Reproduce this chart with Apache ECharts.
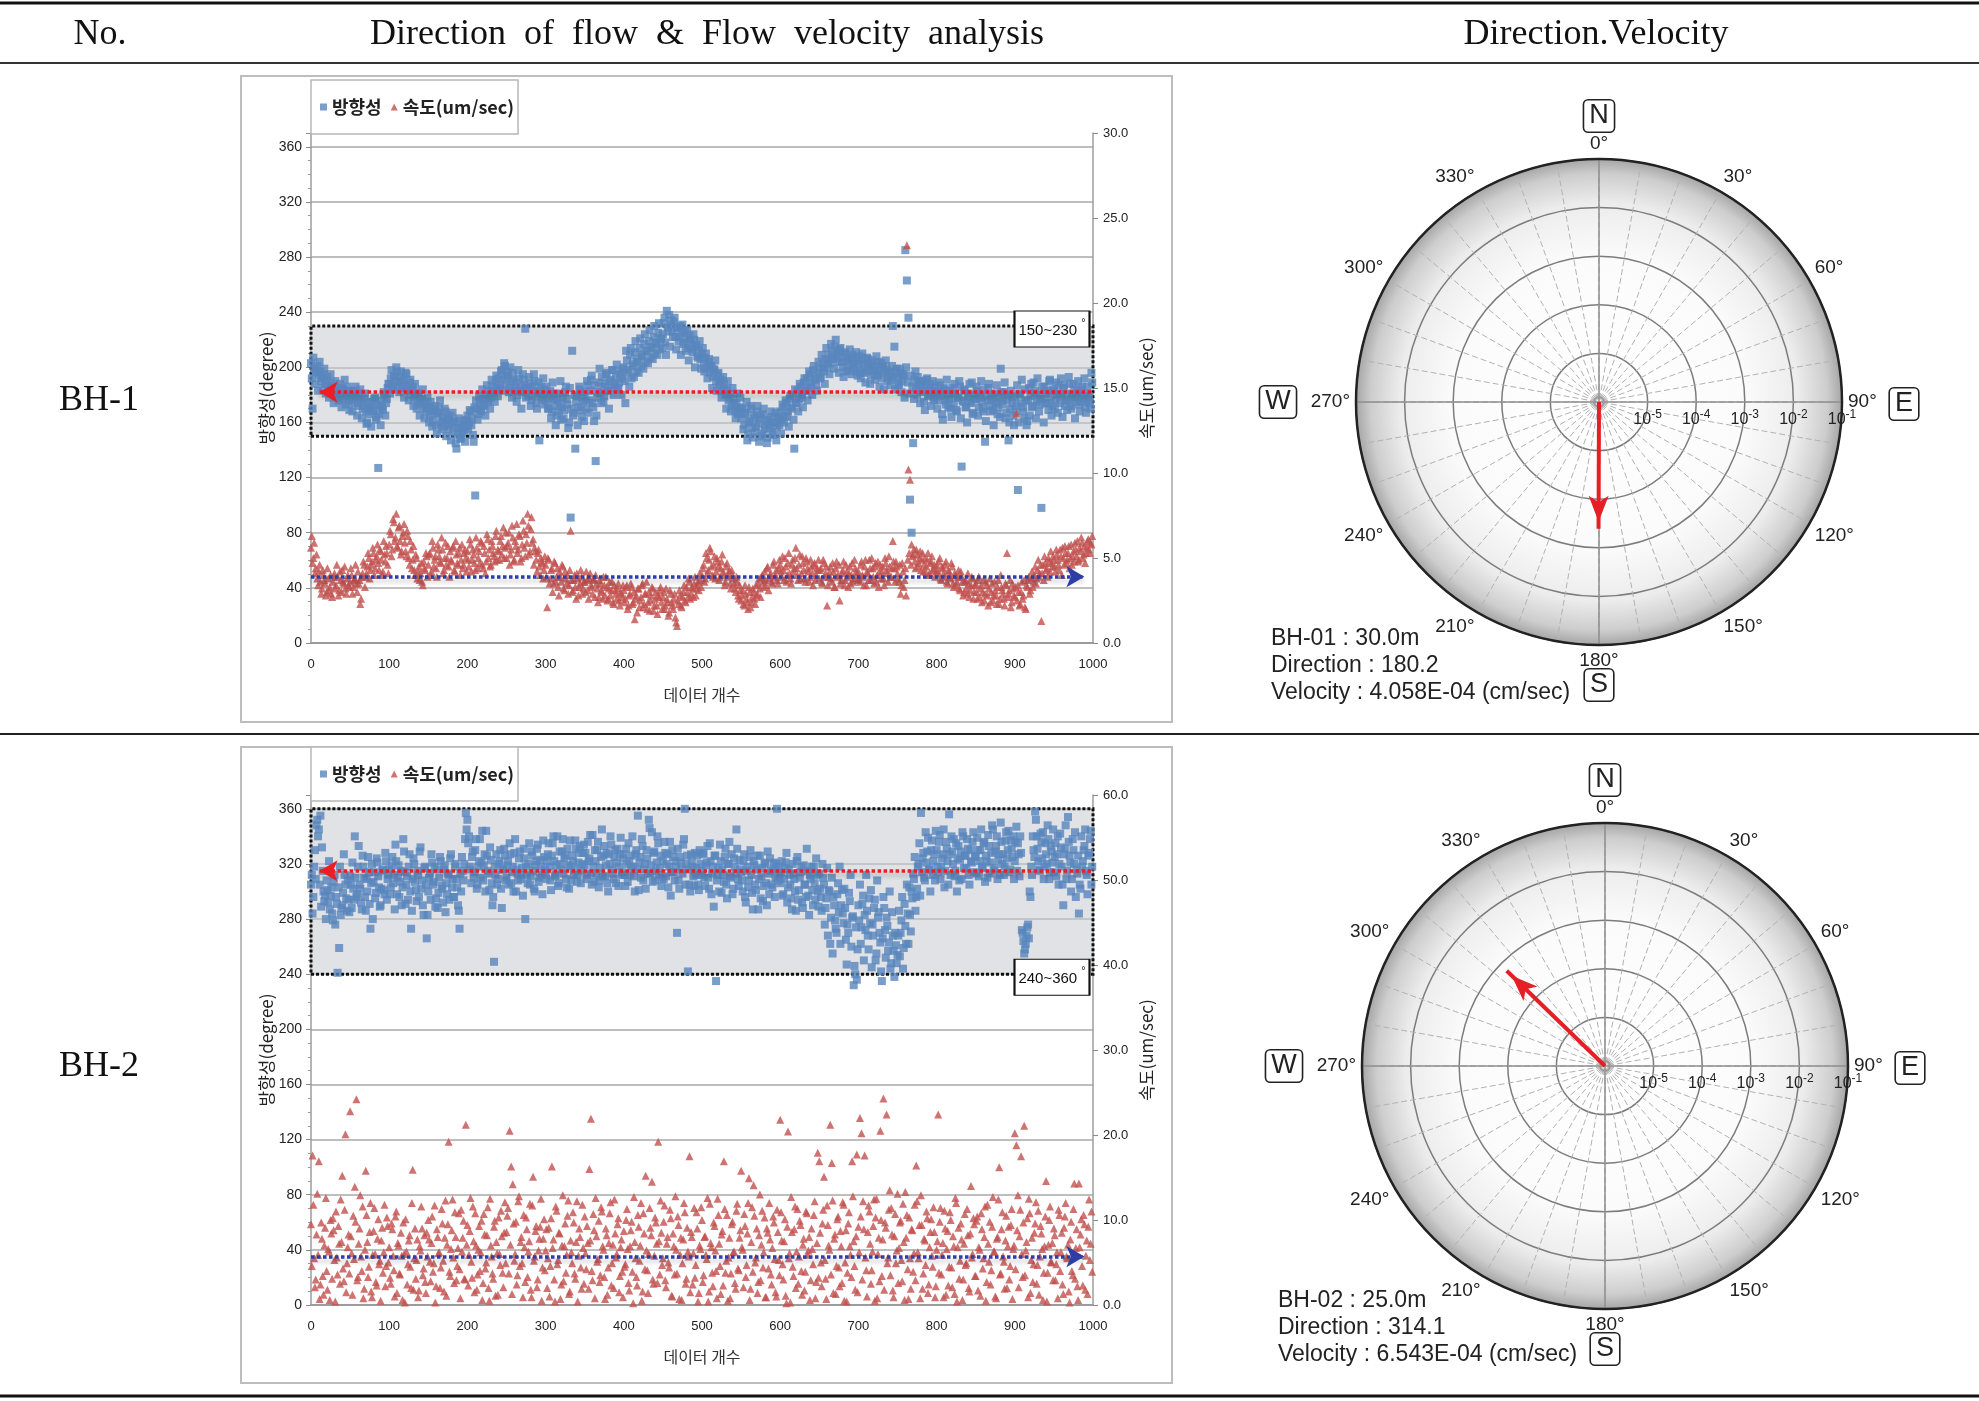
<!DOCTYPE html>
<html><head><meta charset="utf-8">
<script src="https://cdn.jsdelivr.net/npm/echarts@6/dist/echarts.min.js"></script>
<style>html,body{margin:0;padding:0;background:#fff}#c{width:1979px;height:1401px}</style>
</head><body><div id="c"></div>
<script>
// ---------------- DATA ----------------
// Even arrays hold data index 0,2,4,...,998 ; odd arrays hold 1,3,5,...,999 (데이터 개수)
const xTicks = [0, 1000, 100];

// BH-1 direction (degree)
const bh1DirEven = [
203,170,199,196,201,194,197,192,195,188,190,186,184,189,181,185,178,183,176,180,185,177,182,179,175,
180,176,183,174,178,172,181,175,170,177,168,160,166,171,175,168,178,164,127,172,176,169,180,174,185,
188,192,186,194,190,197,189,193,185,191,187,195,183,189,180,186,178,182,175,180,173,177,170,175,168,
172,165,170,162,168,158,166,171,160,164,157,168,162,155,165,159,153,161,141,151,156,149,158,154,162,
165,160,168,163,146,107,170,166,174,169,177,172,180,175,183,178,186,181,189,184,192,187,198,191,201,
188,194,185,190,196,183,189,180,192,186,182,191,228,185,179,188,176,183,190,174,181,147,186,178,184,
180,175,170,183,168,177,172,165,181,174,162,178,169,186,173,160,91,212,167,141,179,171,184,164,175,
182,170,187,176,191,174,161,132,178,189,181,193,175,188,196,183,190,185,198,187,193,185,189,197,192,
200,174,205,198,209,192,203,211,197,206,214,201,209,217,204,212,219,207,215,222,210,218,225,213,221,
224,236,209,229,238,231,226,233,222,228,219,230,225,217,226,221,214,223,218,211,220,215,208,213,206,
210,203,207,199,204,196,201,193,198,190,195,187,191,183,188,180,184,176,181,172,177,169,174,166,171,
163,170,158,167,147,161,172,156,165,153,168,159,163,150,166,155,161,149,158,164,153,160,167,157,163,
168,162,171,165,174,168,177,171,180,141,174,183,177,186,180,189,183,192,186,195,189,198,192,187,196,
199,193,203,197,206,200,209,203,212,206,215,209,204,213,207,200,210,204,198,207,201,209,203,197,205,
202,196,205,199,203,197,206,200,194,203,198,201,195,204,198,192,201,196,199,193,197,191,230,215,196,
193,188,196,190,194,285,263,236,104,80,145,191,185,193,187,182,190,175,186,192,180,188,183,178,186,
182,176,187,179,162,184,173,180,177,170,185,174,181,168,178,186,128,175,183,171,179,188,174,166,180,
177,183,171,180,175,168,146,179,185,172,177,169,181,174,166,178,199,173,182,163,176,147,170,179,165,
178,172,111,181,174,168,163,176,161,185,179,171,189,183,175,180,173,98,177,186,181,174,190,178,172,
183,176,180,187,174,179,185,172,181,176,188,170,178,184,175,182,173,179,186,177,171,181,176,174,196
];
const bh1DirOdd = [
192,207,188,198,183,204,190,185,199,181,193,178,195,186,174,190,183,176,188,171,184,191,173,186,169,
183,168,179,186,165,177,184,163,172,181,159,175,170,157,169,177,162,173,166,158,171,182,165,177,188,
181,198,184,193,200,186,182,197,190,178,196,184,176,191,185,172,188,170,181,165,176,184,163,171,178,
160,175,157,169,172,152,167,176,155,161,170,150,163,158,147,167,160,145,156,163,148,152,161,146,157,
155,169,158,151,171,176,162,179,168,184,173,165,187,176,170,191,182,175,194,179,185,197,183,203,194,
197,182,200,178,191,185,175,198,183,170,195,187,178,184,193,172,186,195,179,170,189,183,176,192,173,
186,170,178,163,189,181,158,176,168,190,171,163,182,177,156,185,170,165,180,175,158,186,169,178,161,
176,190,167,183,194,171,187,165,182,199,174,186,179,195,183,170,191,198,180,188,202,184,195,180,199,
190,212,196,186,214,201,193,219,204,196,221,208,199,224,212,203,227,214,206,230,217,209,232,220,214,
232,218,241,226,215,234,222,236,213,229,222,209,231,218,212,227,205,220,213,224,200,216,207,219,199,
214,197,210,192,206,201,185,199,205,183,196,189,178,193,184,170,190,178,168,185,174,163,181,168,178,
170,155,166,175,152,160,170,149,163,157,172,146,165,152,170,158,145,162,156,168,151,160,147,164,158,
152,173,160,176,164,157,179,170,162,184,174,168,188,178,171,192,183,176,197,185,180,201,191,183,204,
192,209,199,188,214,203,195,217,207,199,220,211,196,214,204,193,211,197,206,213,195,207,199,211,194,
208,192,210,196,189,207,201,188,205,197,191,208,194,186,203,199,184,205,190,196,187,201,193,184,199,
187,199,182,195,178,200,189,181,194,186,177,197,180,190,174,188,183,169,191,179,185,172,190,176,181,
170,189,182,166,185,176,191,171,183,164,180,188,169,178,190,163,176,184,171,160,181,175,189,167,177,
186,165,178,190,170,184,161,176,188,168,180,158,175,187,171,164,182,176,189,167,180,160,183,174,158,
168,187,160,180,191,171,184,158,176,165,188,172,181,163,192,168,177,186,160,174,183,169,191,165,184,
170,189,167,181,192,164,187,176,169,193,172,180,188,163,178,190,168,184,175,192,167,186,179,170,189
];
// BH-1 velocity (um/sec)
const bh1VelEven = [
5.6,4.7,5.9,4.4,3.8,4.2,3.6,3.2,4.0,3.5,3.0,3.8,3.3,2.9,3.6,4.1,3.4,3.9,3.1,3.7,4.3,3.5,3.2,3.8,3.4,
3.6,4.0,3.3,3.8,3.5,4.2,3.7,2.6,4.1,4.6,3.9,4.5,5.0,4.3,4.8,5.3,4.4,5.1,4.7,5.5,4.9,4.2,5.2,5.7,4.6,
5.8,6.4,5.5,7.1,6.2,5.7,6.8,6.0,5.4,6.5,5.9,5.1,6.3,4.6,5.5,4.9,4.3,5.2,3.8,4.5,4.1,3.6,4.8,4.3,5.1,
4.6,5.3,4.2,5.6,4.9,4.4,5.8,5.1,4.7,5.5,4.3,5.9,5.0,4.5,5.4,4.8,5.7,4.2,5.2,4.6,5.6,4.9,4.4,5.3,5.0,
5.4,4.5,5.8,4.9,5.2,4.3,5.6,5.0,4.7,5.9,4.4,5.3,4.8,6.1,5.5,4.6,5.7,5.1,6.3,4.9,5.4,6.0,5.2,6.8,5.6,
5.0,5.9,4.6,5.5,6.2,4.9,5.7,5.3,6.4,4.8,5.8,6.6,5.1,5.9,6.9,5.4,7.4,6.1,5.6,4.9,5.3,4.5,5.0,4.7,4.3,
4.6,2.1,4.9,3.8,4.4,3.5,4.7,3.9,3.3,4.2,3.6,4.5,3.1,3.8,4.0,3.4,6.6,3.0,3.7,3.3,4.1,2.8,3.5,3.9,3.2,
3.6,4.2,3.1,3.8,3.4,2.9,3.7,4.0,3.2,2.7,3.5,3.0,3.9,2.8,3.3,2.6,3.6,3.1,2.4,3.4,2.9,3.2,2.5,3.0,2.7,
3.1,2.6,3.4,2.2,2.9,3.3,2.4,1.4,2.8,3.2,2.1,2.7,3.5,2.3,2.9,2.0,3.0,2.5,3.3,1.9,2.6,2.2,2.8,3.1,2.4,
2.7,2.0,3.2,2.4,1.8,2.9,2.2,2.6,1.5,1.0,2.3,2.8,2.1,3.0,2.5,3.3,2.7,3.6,2.9,3.2,3.5,2.8,3.4,3.1,3.7,
4.0,4.6,3.8,5.0,4.3,5.6,4.5,3.9,5.1,4.2,4.8,3.7,4.4,5.2,4.0,3.6,4.7,4.1,3.5,4.3,3.8,3.2,3.9,2.8,3.4,
2.5,3.1,2.2,2.9,2.4,3.3,2.1,2.7,3.0,2.3,2.8,3.5,3.2,3.9,3.6,4.2,3.4,4.5,3.8,4.1,3.5,4.8,4.0,3.7,4.4,
4.6,3.9,4.3,5.0,3.6,4.7,4.1,3.5,4.9,4.4,5.6,4.0,4.6,3.8,5.1,4.3,3.6,4.8,4.2,3.9,4.5,3.4,4.7,4.0,4.3,
3.8,4.4,3.5,4.7,4.1,2.2,3.9,4.5,3.6,4.2,3.3,4.8,4.0,2.5,3.7,4.3,3.4,4.6,3.9,4.1,3.5,4.7,3.8,4.4,4.0,
4.2,3.6,4.8,3.9,4.5,3.4,4.1,4.9,3.7,4.4,3.5,4.7,4.0,3.3,4.6,4.2,3.8,5.0,4.3,3.6,4.5,3.9,6.0,4.4,4.8,
4.1,3.6,2.9,4.7,3.3,4.4,23.4,10.2,9.6,5.8,5.2,4.8,5.5,4.5,5.0,4.3,5.3,4.6,4.2,4.9,4.0,4.7,5.1,4.4,3.9,
4.6,4.1,5.0,3.7,4.4,3.9,4.8,3.5,4.2,3.8,4.5,3.3,4.0,3.6,4.3,3.1,3.9,2.8,3.6,3.2,4.1,2.7,3.4,3.8,3.0,
3.5,2.6,3.9,3.2,2.4,3.7,2.9,3.4,2.2,3.8,3.0,2.5,3.6,2.8,3.3,2.3,4.0,3.1,2.6,3.5,5.3,2.9,3.7,2.4,3.2,
2.7,13.5,3.4,2.2,3.0,2.6,3.7,2.0,3.3,3.9,3.1,4.2,3.6,4.5,3.8,4.9,4.1,1.3,4.6,5.1,4.3,3.9,4.8,5.4,4.5,
4.9,4.2,5.2,4.6,5.5,4.0,5.0,5.7,4.7,5.3,4.4,5.8,5.1,4.8,5.5,6.0,4.9,5.4,5.9,5.2,4.7,5.6,6.1,5.3,5.8
];
const bh1VelOdd = [
6.3,5.0,4.1,5.2,3.4,4.6,2.9,4.3,3.7,2.8,4.4,3.1,4.0,2.7,3.9,3.2,4.6,2.8,4.2,3.0,3.6,4.5,2.9,4.0,3.3,
4.4,2.9,3.7,4.6,3.0,3.5,2.3,3.9,4.8,3.3,4.1,5.3,3.8,4.6,5.6,4.0,4.9,5.8,4.3,5.4,4.0,6.0,4.8,5.3,4.1,
6.6,5.1,7.3,6.0,7.6,5.6,6.9,5.2,6.3,7.0,5.4,6.6,5.0,6.0,4.4,5.7,4.0,5.0,4.2,3.7,4.7,3.4,4.4,5.3,3.9,
5.2,4.0,6.0,4.5,5.1,3.9,5.5,4.8,6.2,4.1,5.0,4.6,5.7,3.9,4.9,5.6,4.3,6.0,4.7,5.3,4.0,5.8,4.6,5.5,4.2,
4.9,6.1,4.2,5.5,4.7,6.2,4.4,5.4,6.0,4.6,5.7,4.1,6.4,5.0,4.5,6.0,5.3,4.8,6.6,5.5,4.9,6.3,5.7,5.0,6.5,
5.7,6.5,5.2,6.9,4.8,6.0,7.0,5.5,6.3,5.0,7.2,5.6,6.4,7.6,5.2,6.7,5.9,4.6,5.4,4.2,5.5,4.0,4.8,3.8,5.1,
3.9,5.0,3.5,4.3,3.0,4.8,3.6,4.4,2.8,3.9,4.6,3.2,4.2,3.5,2.9,4.3,3.7,3.1,4.0,2.6,3.8,3.3,4.3,2.9,3.6,
3.0,3.7,2.6,4.1,3.3,3.8,2.7,3.5,2.4,3.7,3.1,2.6,3.4,3.9,2.5,3.2,2.8,3.6,2.3,3.1,2.6,3.5,2.2,2.9,3.4,
2.4,3.3,2.0,2.8,3.5,2.3,3.0,2.6,1.8,3.2,2.5,3.4,2.1,2.9,3.6,2.4,1.9,2.8,3.2,2.2,3.0,1.7,2.7,3.3,2.0,
3.0,2.2,2.6,1.6,3.1,2.4,2.0,2.9,1.2,2.5,3.1,2.2,2.7,3.4,2.4,3.0,3.8,2.6,3.3,2.7,3.9,3.2,3.6,4.1,3.3,
4.4,3.6,5.3,4.1,4.9,5.4,4.0,4.6,3.8,5.0,4.5,3.9,4.8,4.2,3.4,4.5,3.9,4.3,3.2,4.0,3.5,3.0,3.6,2.6,3.1,
2.8,2.3,3.4,2.6,2.0,3.0,2.4,3.2,2.6,3.4,2.9,3.8,2.7,4.0,3.3,3.7,4.4,3.1,4.0,3.6,4.6,3.9,4.3,3.5,4.9,
4.2,5.1,3.7,4.5,4.0,5.3,3.8,4.6,4.2,5.0,4.4,3.7,5.2,4.1,4.7,3.8,5.0,4.4,3.6,4.9,4.1,4.6,3.7,4.4,4.9,
4.3,3.6,4.9,3.9,4.5,3.4,4.2,3.8,4.7,3.3,4.4,3.9,4.6,3.5,4.1,4.8,3.7,4.2,3.3,4.5,4.0,3.6,4.9,4.2,3.7,
3.8,4.6,4.0,3.4,4.9,4.2,3.7,4.4,5.0,3.9,4.5,3.6,4.8,4.2,3.8,4.5,3.4,4.7,4.1,5.1,3.9,4.4,4.8,3.6,4.5,
3.8,4.6,3.4,4.2,3.7,2.8,4.9,5.3,4.6,5.1,5.5,4.4,5.2,4.7,5.4,4.9,4.2,5.0,4.5,5.3,4.1,4.8,4.3,4.6,4.2,
4.3,4.8,3.8,4.5,4.1,4.6,3.6,4.3,3.9,4.7,3.5,4.1,3.4,3.9,3.2,4.2,3.6,3.0,3.7,2.9,3.5,3.1,3.9,2.6,3.4,
3.0,3.7,2.7,3.4,3.0,2.5,3.6,2.8,3.2,2.4,3.5,2.8,3.1,2.3,3.7,2.6,3.3,2.9,2.2,3.4,2.7,3.1,2.1,3.5,2.8,
3.3,2.5,3.0,2.3,3.6,2.8,2.1,3.4,3.7,2.9,3.8,3.3,4.0,3.5,4.3,3.9,4.6,4.1,3.7,4.7,4.4,5.0,4.2,4.7,5.1,
4.5,5.5,4.9,4.3,5.1,5.6,4.6,5.3,4.9,5.7,5.0,4.6,5.4,5.9,5.1,4.8,5.6,6.2,5.0,5.7,5.3,6.0,5.5,5.9,6.3
];
// BH-2 direction (degree)
const bh2DirEven = [
305,284,318,309,352,345,355,332,300,297,308,292,287,303,279,312,296,241,259,283,290,327,305,286,294,
311,288,302,340,296,318,305,292,326,310,286,300,314,273,320,307,295,324,311,289,302,316,298,322,309,
316,303,325,312,334,298,319,307,290,338,314,305,294,327,273,309,320,301,315,296,332,308,283,318,266,
300,313,327,305,318,295,288,310,322,302,316,285,298,312,324,303,296,318,309,290,273,300,315,320,357,
352,340,316,325,310,330,302,318,338,321,308,327,344,315,301,323,290,249,312,305,320,330,288,316,326,
310,322,335,306,318,328,300,313,324,309,317,331,280,312,320,305,329,315,300,322,334,310,318,298,325,
314,322,335,308,326,340,311,319,304,329,316,338,324,309,331,302,318,326,312,337,307,321,333,315,328,
319,309,336,324,313,341,307,322,330,303,317,345,326,311,328,300,320,334,313,325,306,331,318,339,314,
327,304,320,335,312,326,318,300,330,355,321,310,333,316,302,324,352,313,343,328,308,321,335,317,304,
322,336,311,327,318,297,330,314,322,270,308,325,316,334,360,320,242,305,327,318,304,312,326,301,320,
315,328,304,321,310,335,298,318,326,235,312,300,322,316,307,331,295,320,311,327,302,318,345,309,323,
314,300,327,292,318,308,330,299,322,305,316,287,326,311,293,320,306,329,298,315,303,321,310,360,318,
306,322,298,317,328,303,312,295,320,309,286,325,301,314,292,319,305,331,297,312,318,290,306,324,300,
313,296,320,305,288,317,301,262,310,296,279,270,306,318,290,284,302,265,276,299,312,281,232,240,236,
290,305,274,297,283,312,268,295,301,276,288,250,308,285,263,235,296,272,281,257,300,248,268,238,261,
254,286,270,296,259,275,305,262,283,300,313,325,296,318,335,357,324,310,343,329,316,300,337,322,308,
330,314,341,318,327,303,336,322,356,312,329,338,315,300,333,323,309,340,326,317,331,305,322,336,314,
325,339,311,330,318,335,307,322,341,313,328,345,317,333,309,327,350,320,312,337,324,344,316,331,340,
322,347,335,311,328,270,255,262,274,266,296,312,330,358,340,322,315,336,343,318,327,348,309,333,321,
314,335,327,305,342,318,290,331,309,354,326,300,338,320,296,313,284,302,318,330,345,312,326,338,305
];
const bh2DirOdd = [
312,296,330,348,340,305,289,315,293,280,301,322,297,284,307,276,291,303,318,288,299,312,295,308,285,
305,321,294,310,298,333,302,287,318,296,309,325,291,306,280,314,299,321,303,290,315,301,328,294,312,
298,319,306,287,322,310,296,315,303,329,291,311,318,300,286,324,307,293,312,329,302,290,317,305,283,
310,294,321,307,289,316,299,325,304,292,319,306,313,294,327,309,296,320,303,286,313,325,308,338,345,
335,318,306,329,314,338,305,322,310,344,319,300,326,313,332,306,296,318,327,309,322,302,316,331,308,
319,305,327,314,300,338,316,308,329,312,297,324,318,306,335,311,326,302,319,331,307,323,312,337,316,
309,327,318,301,335,322,312,340,306,320,329,313,326,303,319,337,308,322,316,331,312,328,306,320,334,
328,312,322,341,305,318,330,313,336,308,325,311,333,319,306,327,340,316,309,330,321,304,327,312,324,
312,331,307,322,318,340,311,327,316,301,325,338,308,320,330,313,346,319,307,329,315,340,312,326,310,
309,328,320,303,336,314,325,308,318,331,302,321,313,338,305,326,316,300,322,311,328,317,305,330,312,
327,310,319,333,302,322,313,289,326,308,317,334,299,312,325,305,320,336,310,298,324,313,331,304,316,
308,322,296,315,303,325,312,287,319,301,326,309,295,317,304,321,290,313,324,305,316,296,320,308,312,
314,297,309,321,292,316,305,287,313,300,322,294,310,318,288,305,296,315,283,309,301,318,294,312,289,
302,286,310,276,295,268,300,281,255,290,273,298,285,262,301,277,288,247,270,293,260,282,246,274,258,
279,262,291,250,272,286,258,277,245,268,294,255,281,270,242,266,288,252,275,263,244,285,257,270,248,
268,253,279,244,291,262,284,303,271,295,309,286,302,320,297,314,328,308,321,339,316,330,312,327,344,
318,336,309,324,345,315,331,305,327,340,320,311,335,324,308,329,343,317,326,338,312,330,321,343,326,
313,330,322,345,317,336,326,310,333,321,348,315,329,340,323,312,336,327,318,343,330,314,337,325,309,
336,315,327,340,272,264,258,268,276,300,318,340,325,352,331,316,342,324,309,335,320,338,314,329,345,
325,311,340,320,332,305,327,348,315,336,321,309,330,343,316,326,305,340,322,333,315,298,328,344,318
];
// BH-2 velocity (um/sec)
const bh2VelEven = [
9.5,17.6,5.5,3.0,13.1,16.9,2.4,7.8,1.2,9.1,4.0,6.6,0.6,8.4,10.2,5.3,11.0,3.6,7.2,12.4,15.2,2.8,20.1,4.9,8.3,
22.8,6.1,10.5,13.9,24.2,3.3,9.0,5.7,11.6,1.9,15.8,7.4,4.5,12.0,0.9,8.7,6.0,2.3,10.1,5.2,7.6,3.8,11.8,4.6,9.3,
6.8,2.5,8.9,4.1,10.4,1.4,7.0,3.6,5.8,9.7,0.3,6.3,4.8,8.2,2.0,15.9,5.5,3.1,7.7,1.7,6.4,9.0,4.3,2.7,8.5,
10.0,5.1,7.3,3.9,11.7,2.2,8.0,6.2,4.4,9.6,1.6,12.3,7.1,19.2,3.4,8.8,5.6,10.9,2.9,6.7,4.2,11.2,7.9,3.1,21.2,
9.4,5.9,12.6,3.2,7.5,10.8,1.8,6.5,4.0,9.9,2.6,8.3,5.0,11.5,0.5,7.0,3.7,9.2,1.1,6.1,10.3,4.7,8.1,2.1,12.1,
8.6,11.4,20.5,16.3,14.2,5.2,9.8,3.5,12.8,7.4,4.9,10.6,2.7,8.9,6.3,11.9,0.9,15.1,5.7,9.3,3.0,7.8,12.5,4.4,10.1,
6.4,2.0,9.1,4.6,16.3,7.7,0.4,11.1,5.3,8.4,2.4,12.9,6.9,3.8,10.5,1.3,7.6,4.9,9.7,3.1,12.2,5.8,8.0,1.9,6.7,
10.4,4.2,7.3,16.0,21.9,2.9,8.8,12.6,5.1,9.9,3.5,11.0,6.5,0.7,8.2,4.4,10.8,2.3,7.1,12.4,5.6,9.5,1.5,6.8,3.9,
8.7,4.8,11.3,2.6,6.9,9.8,0.2,7.4,3.3,10.6,5.2,12.0,1.6,8.4,15.2,4.1,6.0,9.1,14.5,2.5,10.3,7.2,19.2,3.6,8.5,
5.5,11.7,2.1,8.0,4.4,10.2,1.0,6.9,12.8,3.7,9.4,5.9,0.6,7.7,10.9,3.1,6.3,17.5,8.6,2.4,11.4,4.7,9.0,1.4,6.6,
10.0,3.5,8.1,5.4,0.4,11.9,6.8,2.2,9.3,4.0,12.5,7.2,1.3,8.7,16.9,3.8,10.6,5.6,0.8,9.5,6.2,2.6,11.1,4.3,7.9,
15.8,6.5,10.7,3.3,8.4,14.9,1.9,11.5,14.1,5.0,9.0,2.7,13.0,7.1,4.4,10.3,0.9,8.5,12.0,3.6,6.7,9.7,1.5,11.2,5.3,
21.8,7.6,3.0,10.1,0.2,20.4,6.1,12.7,4.5,8.9,2.0,11.3,5.7,9.4,1.2,7.8,3.9,10.8,6.4,0.6,9.0,4.8,12.2,2.7,17.9,
16.9,5.0,9.6,15.1,3.1,11.7,7.0,21.2,16.7,1.4,8.3,4.6,10.4,2.2,6.9,12.1,0.5,8.8,3.8,10.9,5.9,16.9,7.5,1.8,17.7,
9.2,22.0,20.2,12.2,17.6,4.1,8.6,11.0,2.5,6.3,12.4,10.3,0.8,7.9,20.5,3.4,24.3,9.7,22.4,5.6,13.5,11.4,1.7,8.1,4.9,
13.1,6.7,9.9,2.8,7.4,13.3,10.6,0.7,5.5,8.9,3.9,11.8,16.4,6.2,9.4,12.9,1.9,7.8,4.7,10.2,2.4,8.6,5.8,11.5,0.9,
6.5,22.4,9.8,3.6,7.3,11.1,1.2,8.7,4.5,10.0,2.1,6.9,12.6,0.4,9.1,5.2,7.7,3.0,10.7,4.9,8.2,1.6,14.0,6.0,9.5,
3.4,10.4,6.8,1.1,8.9,5.5,11.6,2.7,7.2,9.8,4.1,12.7,6.3,0.8,8.0,16.2,3.7,10.9,5.1,7.6,2.0,9.2,4.6,11.3,6.6,
20.2,18.8,12.9,8.1,17.5,3.3,21.1,6.4,10.2,12.5,1.4,7.9,4.8,9.6,2.5,11.1,5.7,8.4,0.6,6.9,14.6,3.8,10.0,5.1,7.3,
9.0,2.9,6.2,11.2,4.0,8.5,1.3,10.4,5.7,7.1,0.3,9.8,3.5,14.3,6.7,2.2,14.3,8.3,4.6,10.6,1.8,7.6,9.2,5.3,11.0
];
const bh2VelOdd = [
4.6,11.8,2.1,8.3,5.9,0.7,9.7,3.4,7.0,12.6,1.8,6.3,10.0,3.1,8.8,0.4,5.6,9.3,2.5,7.4,4.3,11.2,1.5,6.8,3.7,
8.1,1.2,5.4,9.8,2.9,7.2,12.9,4.0,0.8,6.5,10.6,3.3,8.6,1.6,5.9,11.4,2.7,7.8,4.8,0.5,9.1,6.2,2.2,10.3,5.0,
3.2,9.6,5.8,1.0,11.0,7.3,3.7,8.5,0.6,6.0,10.1,2.4,7.6,4.5,12.0,1.8,9.0,5.3,0.9,6.9,11.6,3.5,8.2,1.4,5.7,
7.7,2.8,10.4,4.9,0.3,8.9,6.1,2.0,11.3,5.2,7.9,1.1,9.5,3.9,6.6,12.4,2.6,8.0,4.6,10.8,0.8,6.3,9.9,3.0,7.1,
2.3,8.7,5.1,11.6,1.5,7.0,3.6,9.3,6.2,0.6,10.7,4.3,8.2,2.0,12.5,5.7,3.1,9.9,7.4,1.2,6.0,11.1,3.8,8.5,4.9,
10.5,3.7,7.1,1.3,9.6,6.0,2.4,12.2,4.6,8.0,0.9,6.8,10.3,3.3,7.5,1.8,11.7,5.2,8.7,2.1,6.4,9.2,0.5,7.8,4.1,
8.9,5.5,1.0,10.2,6.7,3.0,11.6,4.8,8.5,0.7,7.0,2.8,9.6,5.9,12.3,1.6,6.2,10.9,3.7,7.4,0.4,9.0,4.4,11.8,2.5,
6.1,9.3,1.9,7.6,4.0,10.7,0.8,8.1,5.4,2.7,11.5,6.9,3.3,9.0,1.2,7.3,12.1,4.9,2.0,8.4,6.0,10.2,3.4,7.7,0.9,
4.5,10.0,6.6,1.7,8.8,3.9,12.7,5.5,2.3,9.2,7.0,0.5,10.8,4.2,6.4,1.4,11.4,8.2,3.0,5.8,9.7,2.6,7.5,12.3,4.7,
9.8,2.9,7.2,5.0,11.2,1.1,8.4,3.6,6.5,10.4,0.7,7.9,4.9,12.0,2.5,9.1,5.7,1.5,8.0,6.1,3.2,10.9,0.4,7.0,11.5,
2.7,8.0,5.9,12.6,1.6,7.3,3.8,9.7,6.4,0.8,10.6,4.6,8.3,2.3,11.3,5.2,0.5,7.9,3.7,9.8,6.3,1.9,11.9,4.1,8.8,
6.8,2.1,9.3,4.7,12.0,0.6,7.4,3.9,10.5,5.6,1.4,8.2,2.9,11.1,6.2,0.9,9.0,4.3,7.7,2.4,10.4,5.4,1.0,8.6,3.5,
10.9,4.8,7.5,1.1,9.2,5.5,0.3,8.6,3.4,11.6,6.3,2.5,9.9,4.0,7.1,1.7,11.0,5.9,8.0,2.9,6.6,10.6,0.8,7.3,3.2,
8.5,2.2,11.2,5.3,0.7,9.4,6.5,3.6,12.3,7.8,1.3,10.1,4.4,8.7,2.6,11.8,5.0,0.4,9.6,6.9,3.3,12.8,4.6,8.1,1.5,
6.2,10.4,3.0,8.9,5.6,1.0,11.7,7.2,4.1,9.3,0.5,12.5,6.0,2.8,10.0,7.7,1.8,9.1,4.9,11.2,3.5,8.3,0.9,10.7,6.4,
2.6,9.7,5.3,11.9,0.6,7.9,4.2,10.3,1.9,8.8,6.1,2.9,12.2,5.5,0.8,9.4,3.7,7.6,11.0,1.4,6.8,10.1,4.5,8.6,2.2,
7.5,3.8,11.4,5.9,0.9,9.0,6.6,2.3,10.9,4.4,8.1,1.3,12.0,6.8,3.1,9.6,0.6,7.2,4.7,11.3,2.0,8.4,5.6,10.2,3.4,
9.9,1.7,6.5,10.8,4.3,8.0,0.5,11.8,5.1,2.4,9.2,6.3,1.0,7.8,12.4,3.6,8.9,5.7,1.9,10.5,6.9,3.0,9.4,0.7,7.0,
4.2,8.8,2.1,11.2,6.0,9.7,3.5,7.4,0.9,10.8,5.3,2.7,8.5,12.1,4.7,1.2,9.3,6.6,3.8,10.4,0.4,7.1,11.6,5.0,2.9,
8.2,4.8,0.8,10.6,6.2,2.4,9.1,12.0,5.5,1.6,7.7,4.0,11.3,3.1,8.9,0.6,6.8,10.1,2.3,9.5,5.8,1.3,12.4,7.2,3.9
];

const dirBands = [[150, 230], [240, 360]];
const dirMeans = [182, 315];
const velMeans = [3.9, 5.7];
const dirAxisTicks = [0, 360, 40];
const velAxisTicks = [[0, 30, 5], [0, 60, 10]];

const rowLabels = ['BH-1', 'BH-2'];
const headers = ['No.', 'Direction  of  flow  &  Flow  velocity  analysis', 'Direction.Velocity'];
const legendNames = ['방향성', '속도(um/sec)'];

const polarSites = ['BH-01', 'BH-02'];
const polarDepths = ['30.0m', '25.0m'];
const polarDirections = [180.2, 314.1];
const polarVelocities = [4.058e-4, 6.543e-4]; // cm/sec
const polarRadiusRange = [1e-6, 1e-1];
const compass = ['N', 'E', 'S', 'W'];

// ---------------- LAYOUT / STYLE ----------------
const fSerif = '"Liberation Serif","Times New Roman",serif';
const fSans = '"Liberation Sans",Arial,sans-serif';
const fKr = '"Noto Sans CJK KR","Noto Sans",sans-serif';

const gridTops = [133, 795];
const frameTops = [76, 747];
const legendTops = [80, 747];
const polarCenters = [[1599, 402], [1605, 1066]];
const polarR = 243;

function pairsEO(even, odd) {
  const out = [];
  even.forEach((v, i) => out.push([i * 2, v]));
  odd.forEach((v, i) => out.push([i * 2 + 1, v]));
  return out;
}
function fmtE(v) {
  const e = Math.floor(Math.log10(v));
  const m = v / Math.pow(10, e);
  return m.toFixed(3) + 'E' + (e < 0 ? '-' : '+') + String(Math.abs(e)).padStart(2, '0');
}

const dirData = [pairsEO(bh1DirEven, bh1DirOdd), pairsEO(bh2DirEven, bh2DirOdd)];
const velData = [pairsEO(bh1VelEven, bh1VelOdd), pairsEO(bh2VelEven, bh2VelOdd)];

const grid = [], xAxis = [], yAxis = [], legend = [], series = [];
for (let k = 0; k < 2; k++) {
  grid.push({ left: 311, top: gridTops[k], width: 782, height: 510 });
  xAxis.push({
    gridIndex: k, type: 'value', min: xTicks[0], max: xTicks[1], interval: xTicks[2],
    axisLine: { show: true, lineStyle: { color: '#9c9c9c', width: 2 } },
    axisTick: { show: false }, splitLine: { show: false },
    axisLabel: { formatter: v => String(v), fontSize: 13, color: '#222', margin: 15, fontFamily: fSans },
    name: '데이터 개수', nameLocation: 'middle', nameGap: 44,
    nameTextStyle: { fontSize: 16, color: '#333', fontFamily: fKr }
  });
  const dirMaxVis = dirAxisTicks[1] * 510 / 496;
  yAxis.push({
    gridIndex: k, type: 'value', position: 'left', min: dirAxisTicks[0], max: Math.round(dirMaxVis), interval: dirAxisTicks[2],
    axisLine: { show: true, lineStyle: { color: '#9c9c9c', width: 1.5 } },
    axisTick: { show: true, length: 5, lineStyle: { color: '#8a8a8a' } },
    minorTick: { show: true, splitNumber: 4, length: 3, lineStyle: { color: '#9a9a9a' } },
    splitLine: { show: true, showMinLine: false, showMaxLine: false, lineStyle: { color: '#a9a9a9', width: 1.6 } },
    axisLabel: { formatter: v => (v % dirAxisTicks[2] === 0 ? String(v) : ''), fontSize: 14, color: '#222', margin: 9, fontFamily: fSans },
    name: '방향성(degree)', nameLocation: 'middle', nameGap: 36, nameRotate: 90,
    nameTextStyle: { fontSize: 17, color: '#222', fontFamily: fKr }
  });
  const vt = velAxisTicks[k];
  yAxis.push({
    gridIndex: k, type: 'value', position: 'right', min: vt[0], max: vt[1], interval: vt[2],
    axisLine: { show: true, lineStyle: { color: '#9c9c9c', width: 1.5 } },
    axisTick: { show: true, length: 5, lineStyle: { color: '#8a8a8a' } },
    splitLine: { show: false },
    axisLabel: { formatter: v => v.toFixed(1), fontSize: 13, color: '#222', margin: 10, fontFamily: fSans },
    name: '속도(um/sec)', nameLocation: 'middle', nameGap: 45, nameRotate: 90,
    nameTextStyle: { fontSize: 17, color: '#222', fontFamily: fKr }
  });
  legend.push({
    left: 311, top: legendTops[k], orient: 'horizontal',
    data: [{ name: legendNames[0], icon: 'rect' }, { name: legendNames[1], icon: 'triangle' }],
    itemWidth: 7, itemHeight: 7, itemGap: 9, padding: [18, 4, 18, 9],
    backgroundColor: '#fff', borderColor: '#b8b8b8', borderWidth: 1.5, selectedMode: false,
    textStyle: { fontSize: 18, color: '#222', fontFamily: fKr, fontWeight: 'bold' }
  });
  const band = dirBands[k];
  const labelY = k === 0 ? band[1] : band[0];
  series.push({
    type: 'scatter', name: legendNames[0], xAxisIndex: k, yAxisIndex: 2 * k,
    data: dirData[k], symbol: 'rect', symbolSize: 8, z: 3,
    itemStyle: { color: '#5886bd' },
    markArea: {
      silent: true, z: 1,
      itemStyle: { color: 'rgba(200,202,207,0.55)', borderColor: '#111', borderWidth: 3, borderType: [3, 2] },
      data: [[{ xAxis: xTicks[0], yAxis: band[0] }, { xAxis: xTicks[1], yAxis: band[1] }]]
    },
    markLine: {
      silent: true, z: 10, symbol: ['arrow', 'none'], symbolSize: [16, 18],
      label: { show: false },
      lineStyle: { color: '#ee1d23', width: 3.5, type: [3.5, 2.5], shadowColor: 'rgba(0,0,0,0.25)', shadowBlur: 4, shadowOffsetY: 4 },
      data: [[{ xAxis: 11, yAxis: dirMeans[k] }, { xAxis: xTicks[1], yAxis: dirMeans[k] }]]
    },
    markPoint: {
      silent: true, z: 12, symbol: 'rect', symbolSize: [75, 36], symbolOffset: [-41, 3],
      itemStyle: { color: '#fff', borderColor: '#111', borderWidth: 1.5 },
      label: {
        show: true, position: 'inside',
        formatter: '{a|' + band[0] + '~' + band[1] + '}{d|°}',
        rich: {
          a: { fontSize: 15, color: '#111', fontFamily: fSans, padding: [3, 0, 0, 0] },
          d: { fontSize: 11, color: '#111', padding: [0, 0, 13, 4] }
        }
      },
      data: [{ coord: [xTicks[1], labelY] }]
    }
  });
  series.push({
    type: 'scatter', name: legendNames[1], xAxisIndex: k, yAxisIndex: 2 * k + 1,
    data: velData[k], symbol: 'triangle', symbolSize: 8, z: 4,
    itemStyle: { color: '#c0504d' },
    markLine: {
      silent: true, z: 10, symbol: ['none', 'arrow'], symbolSize: [16, 18],
      label: { show: false },
      lineStyle: { color: '#2e3ea6', width: 3.5, type: [3.5, 2.5], shadowColor: 'rgba(0,0,0,0.25)', shadowBlur: 4, shadowOffsetY: 4 },
      data: [[{ xAxis: 0, yAxis: velMeans[k] }, { xAxis: 989, yAxis: velMeans[k] }]]
    }
  });
}

// polar diagrams
const polar = [], angleAxis = [], radiusAxis = [];
for (let k = 0; k < 2; k++) {
  const c = polarCenters[k];
  polar.push({ center: c, radius: polarR });
  polar.push({ center: c, radius: polarR });
  angleAxis.push({
    polarIndex: 2 * k, type: 'value', min: 0, max: 360, interval: 10, startAngle: 90, clockwise: true,
    axisLine: { show: true, lineStyle: { color: '#222', width: 2.5 } },
    axisTick: { show: false },
    splitLine: { show: true, lineStyle: { color: '#b2b2b2', width: 1, type: [6, 3] } },
    axisLabel: { show: true, formatter: v => (v % 30 === 0 && v < 360 ? v + '°' : ''), fontSize: 19, color: '#222', margin: 6, fontFamily: fSans }
  });
  angleAxis.push({
    polarIndex: 2 * k + 1, type: 'value', min: 0, max: 360, interval: 90, startAngle: 0, clockwise: false,
    axisLine: { show: false }, axisTick: { show: false }, axisLabel: { show: false },
    splitLine: { show: true, lineStyle: { color: '#8e8e8e', width: 1.5 } }
  });
  radiusAxis.push({
    polarIndex: 2 * k, type: 'log', logBase: 10, min: polarRadiusRange[0], max: polarRadiusRange[1],
    axisLine: { show: false }, axisTick: { show: false }, axisLabel: { show: false },
    splitLine: { show: true, lineStyle: { color: '#7c7c7c', width: 1.5 } }
  });
  radiusAxis.push({
    polarIndex: 2 * k + 1, type: 'log', logBase: 10, min: polarRadiusRange[0], max: polarRadiusRange[1],
    axisLine: { show: false }, axisTick: { show: false }, splitLine: { show: false },
    axisLabel: {
      show: true, margin: -7, verticalAlign: 'top',
      formatter: v => { const e = Math.round(Math.log10(v)); return e > Math.round(Math.log10(polarRadiusRange[0])) ? '{b|10}{s|' + e + '}' : ''; },
      rich: {
        b: { fontSize: 16, color: '#222', fontFamily: fSans },
        s: { fontSize: 12, color: '#222', fontFamily: fSans, padding: [0, 0, 9, 0] }
      }
    }
  });
  const dir = polarDirections[k];
  const rad = dir * Math.PI / 180, back = 7;
  series.push({
    type: 'line', coordinateSystem: 'polar', polarIndex: 2 * k, silent: true, z: 10,
    lineStyle: { color: '#e42026', width: 4 }, itemStyle: { color: '#e42026' },
    data: [
      { value: [polarRadiusRange[0], dir], symbol: 'none' },
      { value: [polarVelocities[k], dir], symbol: 'arrow', symbolSize: [15, 26], symbolRotate: -dir,
        symbolOffset: [-back * Math.sin(rad), back * Math.cos(rad)] }
    ]
  });
}

// decorative graphics: table rules, frames, texts
const g = [];
[[3, 3, '#111'], [63, 2, '#333'], [734, 2, '#222'], [1396, 3, '#111']].forEach(([y, w, col]) => {
  g.push({ type: 'line', z: -20, shape: { x1: 0, y1: y, x2: 1979, y2: y }, style: { stroke: col, lineWidth: w } });
});
[[100, 35], [707, 35], [1596, 35]].forEach((p, i) => {
  g.push({ type: 'text', x: p[0], y: p[1], style: { text: headers[i], font: '36px ' + fSerif, fill: '#111', align: 'center', verticalAlign: 'middle' } });
});
[[99, 401], [99, 1067]].forEach((p, i) => {
  g.push({ type: 'text', x: p[0], y: p[1], style: { text: rowLabels[i], font: '36px ' + fSerif, fill: '#111', align: 'center', verticalAlign: 'middle' } });
});
frameTops.forEach((t, k) => {
  g.push({ type: 'rect', z: -20, shape: { x: 241, y: t, width: 931, height: k === 0 ? 646 : 636 }, style: { fill: 'transparent', stroke: '#bdbdbd', lineWidth: 2 } });
});
polarCenters.forEach((c, k) => {
  g.push({
    type: 'circle', z: -10, shape: { cx: c[0], cy: c[1], r: polarR },
    style: {
      fill: { type: 'radial', x: 0.5, y: 0.5, r: 0.5, colorStops: [
        { offset: 0, color: '#ffffff' }, { offset: 0.6, color: '#fbfbfb' }, { offset: 0.82, color: '#ececec' },
        { offset: 0.94, color: '#cdcdcd' }, { offset: 1, color: '#a6a6a6' }] }
    }
  });
  g.push({ type: 'circle', z: 5, shape: { cx: c[0], cy: c[1], r: 5 }, style: { fill: 'transparent', stroke: '#9a9a9a', lineWidth: 2 } });
  const off = [[0, -286], [305, 2], [0, 283], [-321, 0]];
  compass.forEach((t, i) => {
    g.push({ type: 'text', x: c[0] + off[i][0], y: c[1] + off[i][1], z: 5,
      style: { text: t, font: '27px ' + fSans, fill: '#222', align: 'center', verticalAlign: 'middle',
        backgroundColor: '#fff', borderColor: '#222', borderWidth: 1.6, borderRadius: 4, padding: [3, 5, 1, 5] } });
  });
  const lines = [polarSites[k] + ' : ' + polarDepths[k], 'Direction : ' + polarDirections[k].toFixed(1), 'Velocity : ' + fmtE(polarVelocities[k]) + ' (cm/sec)'];
  const tx = k === 0 ? 1271 : 1278, ty = k === 0 ? 639 : 1301;
  lines.forEach((s, i) => {
    g.push({ type: 'text', x: tx, y: ty + i * 27, z: 5, style: { text: s, font: '23px ' + fSans, fill: '#222', align: 'left', verticalAlign: 'middle' } });
  });
});

const chart = echarts.init(document.getElementById('c'), null, { renderer: 'canvas' });
chart.setOption({
  animation: false, backgroundColor: '#ffffff',
  graphic: { elements: g },
  legend, grid, xAxis, yAxis, polar, angleAxis, radiusAxis, series
});
</script>
</body></html>
